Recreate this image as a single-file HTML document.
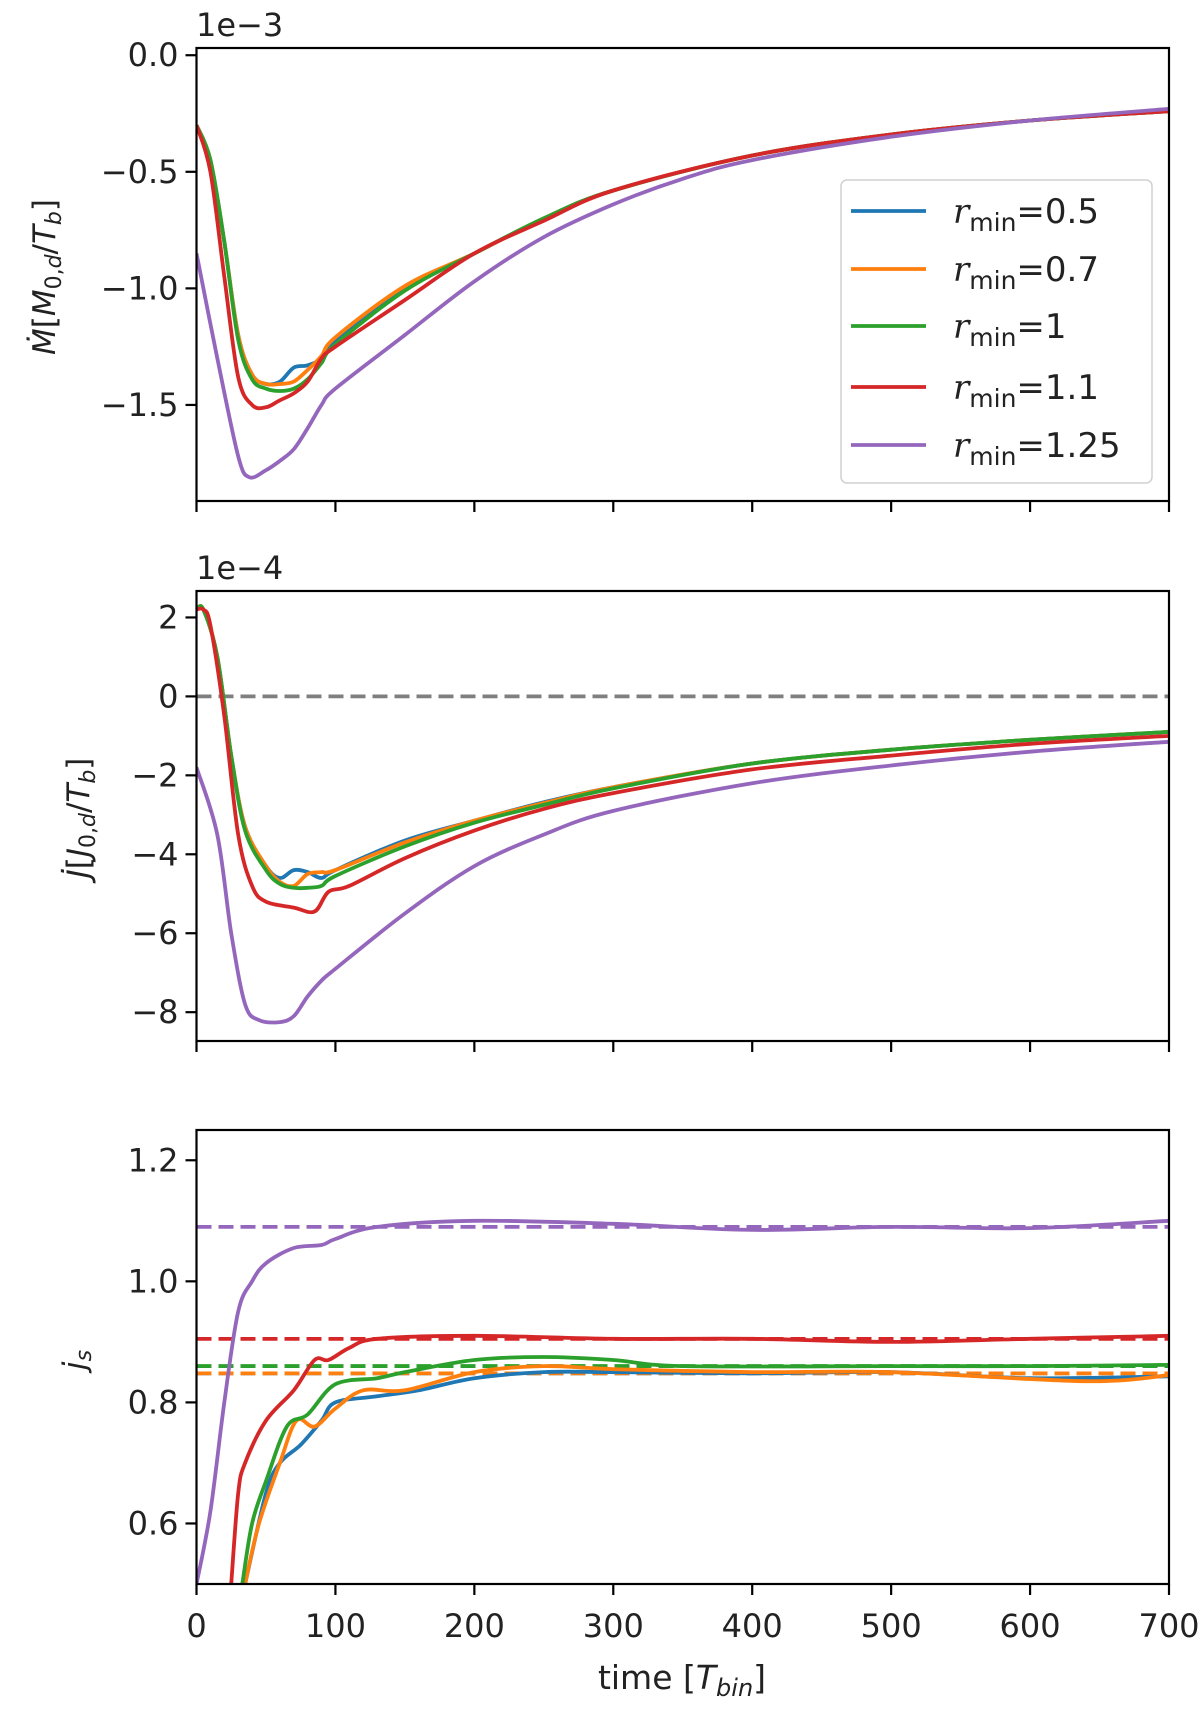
<!DOCTYPE html>
<html>
<head>
<meta charset="utf-8">
<style>
html,body{margin:0;padding:0;background:#fff;}
svg{display:block;font-family:"DejaVu Sans","Liberation Sans",sans-serif;}
</style>
</head>
<body>
<svg id="fig" width="1200" height="1718" viewBox="0 0 1200 1718" xmlns="http://www.w3.org/2000/svg">
</svg>
<script>
// ---- data ----
const xTicks = [0,100,200,300,400,500,600,700];
const seriesNames = ["r_min = 0.5","r_min = 0.7","r_min = 1","r_min = 1.1","r_min = 1.25"];
const legendVals = ["0.5","0.7","1","1.1","1.25"];
const colors = ["#1f77b4","#ff7f0e","#2ca02c","#d62728","#9467bd"];

// Panel 1: Mdot (1e-3)
const p1Ticks = [0.0,-0.5,-1.0,-1.5];
const p1TickLabels = ["0.0","\u22120.5","\u22121.0","\u22121.5"];
const p1T_blue   = [0,10,20,30,40,50,60,70,80,90,100,150,200,250,300,400,500,600,700];
const p1_blue    = [-0.3,-0.45,-0.8,-1.2,-1.37,-1.41,-1.40,-1.34,-1.33,-1.30,-1.22,-1.0,-0.85,-0.7,-0.58,-0.43,-0.34,-0.28,-0.24];
const p1_orange  = [-0.3,-0.45,-0.8,-1.2,-1.37,-1.41,-1.41,-1.40,-1.35,-1.29,-1.21,-0.99,-0.85,-0.7,-0.58,-0.43,-0.34,-0.28,-0.24];
const p1_green   = [-0.3,-0.45,-0.8,-1.22,-1.39,-1.43,-1.44,-1.43,-1.39,-1.32,-1.24,-1.01,-0.85,-0.7,-0.58,-0.43,-0.34,-0.28,-0.24];
const p1T_red    = [0,10,20,30,40,50,60,70,80,90,100,150,200,250,300,400,500,600,700];
const p1_red     = [-0.3,-0.5,-0.95,-1.38,-1.50,-1.51,-1.48,-1.45,-1.40,-1.30,-1.25,-1.05,-0.85,-0.71,-0.58,-0.43,-0.34,-0.28,-0.24];
const p1T_purple = [0,15,30,38,50,60,70,80,90,100,150,200,250,300,350,400,500,600,700];
const p1_purple  = [-0.85,-1.3,-1.72,-1.81,-1.78,-1.74,-1.69,-1.60,-1.50,-1.43,-1.2,-0.97,-0.78,-0.64,-0.53,-0.45,-0.35,-0.28,-0.23];

// Panel 2: Jdot (1e-4)
const p2Ticks = [2,0,-2,-4,-6,-8];
const p2TickLabels = ["2","0","\u22122","\u22124","\u22126","\u22128"];
const p2T = [0,5,15,25,35,50,60,70,80,90,100,150,200,250,300,400,500,600,700];
const p2_blue   = [2.2,2.2,1.0,-1.5,-3.3,-4.3,-4.6,-4.4,-4.45,-4.6,-4.4,-3.65,-3.15,-2.68,-2.3,-1.7,-1.35,-1.1,-0.9];
const p2_orange = [2.2,2.2,1.0,-1.5,-3.3,-4.3,-4.7,-4.8,-4.5,-4.45,-4.4,-3.7,-3.15,-2.7,-2.3,-1.7,-1.35,-1.1,-0.9];
const p2_green  = [2.2,2.2,1.0,-1.5,-3.4,-4.4,-4.75,-4.85,-4.85,-4.8,-4.55,-3.8,-3.2,-2.75,-2.33,-1.7,-1.35,-1.1,-0.9];
const p2T_red   = [0,5,10,20,30,40,50,70,85,95,110,150,200,250,300,400,500,600,700];
const p2_red    = [2.2,2.2,1.8,-0.5,-3.5,-4.8,-5.2,-5.35,-5.45,-4.95,-4.8,-4.1,-3.4,-2.85,-2.45,-1.85,-1.5,-1.2,-1.0];
const p2T_purple= [0,15,25,35,45,60,70,80,90,100,150,200,250,300,400,500,600,700];
const p2_purple = [-1.8,-3.5,-6.0,-7.8,-8.2,-8.25,-8.1,-7.6,-7.2,-6.9,-5.5,-4.3,-3.5,-2.9,-2.2,-1.75,-1.4,-1.15];

// Panel 3: j_s
const p3Ticks = [1.2,1.0,0.8,0.6];
const p3TickLabels = ["1.2","1.0","0.8","0.6"];
const p3Levels = [0.848,0.848,0.86,0.905,1.09];
const p3T_blue   = [35,50,60,75,90,100,130,160,200,250,300,400,500,600,700];
const p3_blue    = [0.5,0.65,0.7,0.73,0.77,0.80,0.81,0.82,0.84,0.85,0.85,0.848,0.85,0.84,0.843];
const p3T_orange = [35,45,60,72,85,100,120,150,200,250,300,400,500,640,700];
const p3_orange  = [0.5,0.6,0.7,0.77,0.76,0.79,0.82,0.82,0.85,0.86,0.855,0.85,0.85,0.835,0.845];
const p3T_green  = [33,40,50,65,80,100,130,150,200,250,300,350,500,600,700];
const p3_green   = [0.5,0.6,0.67,0.76,0.78,0.83,0.84,0.85,0.87,0.875,0.87,0.86,0.86,0.86,0.862];
const p3T_red    = [25,30,35,50,70,85,95,110,130,200,300,400,500,600,700];
const p3_red     = [0.5,0.65,0.7,0.77,0.82,0.87,0.87,0.89,0.905,0.91,0.905,0.905,0.9,0.905,0.91];
const p3T_purple = [0,10,20,30,40,50,70,90,100,130,200,300,400,500,600,700];
const p3_purple  = [0.5,0.62,0.8,0.95,1.0,1.03,1.055,1.06,1.07,1.09,1.1,1.095,1.085,1.09,1.088,1.1];

// ---- layout ----
const NS = "http://www.w3.org/2000/svg";
const svg = document.getElementById("fig");
const X0 = 196.5, X1 = 1169, XMIN = 0, XMAX = 700;
const LW = 3.8, FS = 32;
function xs(v){ return X0 + (v - XMIN) / (XMAX - XMIN) * (X1 - X0); }
const panels = [
  {top:48, bot:501, vmin:-1.912, vmax:0.031},
  {top:591, bot:1041, vmin:-8.73, vmax:2.67},
  {top:1130, bot:1584, vmin:0.5, vmax:1.25}
];
function ysFor(p){ return v => p.bot - (v - p.vmin) / (p.vmax - p.vmin) * (p.bot - p.top); }

function mk(tag, attrs, parent){
  const e = document.createElementNS(NS, tag);
  for (const k in attrs) e.setAttribute(k, attrs[k]);
  (parent || svg).appendChild(e);
  return e;
}
function smoothPath(T, V, ys){
  const pts = T.map((t,i)=>[xs(t), ys(V[i])]);
  let d = "M"+pts[0][0].toFixed(1)+","+pts[0][1].toFixed(1);
  for (let i=0;i<pts.length-1;i++){
    const p0 = pts[Math.max(0,i-1)], p1 = pts[i], p2 = pts[i+1], p3 = pts[Math.min(pts.length-1,i+2)];
    const c1x = p1[0] + (p2[0]-p0[0])/6, c1y = p1[1] + (p2[1]-p0[1])/6;
    const c2x = p2[0] - (p3[0]-p1[0])/6, c2y = p2[1] - (p3[1]-p1[1])/6;
    d += " C"+c1x.toFixed(1)+","+c1y.toFixed(1)+" "+c2x.toFixed(1)+","+c2y.toFixed(1)+" "+p2[0].toFixed(1)+","+p2[1].toFixed(1);
  }
  return d;
}

const defs = mk("defs", {});
panels.forEach((p,i)=>{
  const cp = mk("clipPath", {id:"clip"+i}, defs);
  mk("rect", {x:X0, y:p.top, width:X1-X0, height:p.bot-p.top}, cp);
});

function drawAxes(pi, ticks, labels, showXLabels, name){
  const p = panels[pi], ys = ysFor(p);
  const g = mk("g", {});
  
  
  ticks.forEach((v,i)=>{
    const y = ys(v);
    mk("line", {x1:X0-11, x2:X0, y1:y, y2:y, stroke:"#000", "stroke-width":2.2}, g);
    const t = mk("text", {x:X0-18, y:y+11, "text-anchor":"end", "font-size":FS, fill:"#222"}, g);
    t.textContent = labels[i];
    
    
  });
  xTicks.forEach(v=>{
    const x = xs(v);
    mk("line", {x1:x, x2:x, y1:p.bot, y2:p.bot+11, stroke:"#000", "stroke-width":2.2}, g);
    if (showXLabels){
      const t = mk("text", {x:x, y:p.bot+53, "text-anchor":"middle", "font-size":FS, fill:"#222"}, g);
      t.textContent = String(v);
      
      
    }
  });
  return g;
}
function drawFrame(pi, name){
  const p = panels[pi];
  const r = mk("rect", {x:X0, y:p.top, width:X1-X0, height:p.bot-p.top, fill:"none", stroke:"#000", "stroke-width":2.2});
  
  
}
function drawLine(pi, T, V, color, name, dashed){
  const ys = ysFor(panels[pi]);
  const path = mk("path", {d:smoothPath(T,V,ys), fill:"none", stroke:color, "stroke-width":LW, "stroke-linejoin":"round", "clip-path":"url(#clip"+pi+")"});
  if (dashed) path.setAttribute("stroke-dasharray", dashed);
  
  
}
function hline(pi, v, color, name){
  const ys = ysFor(panels[pi]);
  const l = mk("line", {x1:X0, x2:X1, y1:ys(v), y2:ys(v), stroke:color, "stroke-width":LW, "stroke-dasharray":"15,7", "clip-path":"url(#clip"+pi+")"});
  
  
}

// Panel 1
drawAxes(0, p1Ticks, p1TickLabels, false, "mdot");
drawLine(0, p1T_blue, p1_blue, colors[0], "mdot-line-rmin-0.5");
drawLine(0, p1T_blue, p1_orange, colors[1], "mdot-line-rmin-0.7");
drawLine(0, p1T_blue, p1_green, colors[2], "mdot-line-rmin-1");
drawLine(0, p1T_red, p1_red, colors[3], "mdot-line-rmin-1.1");
drawLine(0, p1T_purple, p1_purple, colors[4], "mdot-line-rmin-1.25");
drawFrame(0, "mdot");

// Panel 2
drawAxes(1, p2Ticks, p2TickLabels, false, "jdot");
hline(1, 0, "#7f7f7f", "jdot-zero-line");
drawLine(1, p2T, p2_blue, colors[0], "jdot-line-rmin-0.5");
drawLine(1, p2T, p2_orange, colors[1], "jdot-line-rmin-0.7");
drawLine(1, p2T, p2_green, colors[2], "jdot-line-rmin-1");
drawLine(1, p2T_red, p2_red, colors[3], "jdot-line-rmin-1.1");
drawLine(1, p2T_purple, p2_purple, colors[4], "jdot-line-rmin-1.25");
drawFrame(1, "jdot");

// Panel 3
drawAxes(2, p3Ticks, p3TickLabels, true, "js");
p3Levels.forEach((v,i)=>{ hline(2, v, colors[i], "js-mean-line-"+legendVals[i]); });
drawLine(2, p3T_blue, p3_blue, colors[0], "js-line-rmin-0.5");
drawLine(2, p3T_orange, p3_orange, colors[1], "js-line-rmin-0.7");
drawLine(2, p3T_green, p3_green, colors[2], "js-line-rmin-1");
drawLine(2, p3T_red, p3_red, colors[3], "js-line-rmin-1.1");
drawLine(2, p3T_purple, p3_purple, colors[4], "js-line-rmin-1.25");
drawFrame(2, "js");

// Legend
const lg = mk("g", {});


mk("rect", {x:841, y:180, width:311, height:303, rx:6, fill:"#fff", "fill-opacity":0.8, stroke:"#d0d0d0", "stroke-width":1.5}, lg);
const legY = [211, 269, 326, 387, 445];
legendVals.forEach((v,i)=>{
  const y = legY[i];
  const ln = mk("line", {x1:851, x2:926, y1:y, y2:y, stroke:colors[i], "stroke-width":LW}, lg);
  
  
  const t = mk("text", {x:953, y:y+12, "font-size":34, fill:"#222"}, lg);
  
  
  t.innerHTML = '<tspan font-style="italic" font-family="DejaVu Serif, Liberation Serif, serif">r</tspan><tspan font-size="25" dy="8">min</tspan><tspan dy="-8">=' + v + '</tspan>';
});
</script>
<script>
(function(){
  const NS = "http://www.w3.org/2000/svg";
  const svg = document.getElementById("fig");
  function txt(attrs, html, name){
    const t = document.createElementNS(NS, "text");
    for (const k in attrs) t.setAttribute(k, attrs[k]);
    t.innerHTML = html;
    
    
    svg.appendChild(t);
  }
  txt({x:196, y:36, "font-size":32, fill:"#222"}, "1e\u22123", "mdot-offset-label");
  txt({x:196, y:579, "font-size":32, fill:"#222"}, "1e\u22124", "jdot-offset-label");
  txt({x:0, y:0, "font-size":31, fill:"#222", "text-anchor":"middle", transform:"translate(55,277) rotate(-90)"},
      '<tspan font-style="italic">Ṁ</tspan>[<tspan font-style="italic">M</tspan><tspan font-size="22" dy="6">0,<tspan font-style="italic">d</tspan></tspan><tspan dy="-6">/</tspan><tspan font-style="italic">T</tspan><tspan font-size="22" dy="6" font-style="italic">b</tspan><tspan dy="-6">]</tspan>', "mdot-y-axis-title");
  txt({x:0, y:0, "font-size":31, fill:"#222", "text-anchor":"middle", transform:"translate(89,818) rotate(-90)"},
      '<tspan font-style="italic">J̇</tspan>[<tspan font-style="italic">J</tspan><tspan font-size="22" dy="6">0,<tspan font-style="italic">d</tspan></tspan><tspan dy="-6">/</tspan><tspan font-style="italic">T</tspan><tspan font-size="22" dy="6" font-style="italic">b</tspan><tspan dy="-6">]</tspan>', "jdot-y-axis-title");
  txt({x:0, y:0, "font-size":31, fill:"#222", "text-anchor":"middle", transform:"translate(85,1360) rotate(-90)"},
      '<tspan font-style="italic">j̇</tspan><tspan font-size="22" dy="6" font-style="italic">s</tspan>', "js-y-axis-title");
  txt({x:682, y:1689, "font-size":33, fill:"#222", "text-anchor":"middle"},
      'time [<tspan font-style="italic">T</tspan><tspan font-size="24" dy="7" font-style="italic">bin</tspan><tspan dy="-7">]</tspan>', "x-axis-title");
})();
</script>
</body>
</html>
